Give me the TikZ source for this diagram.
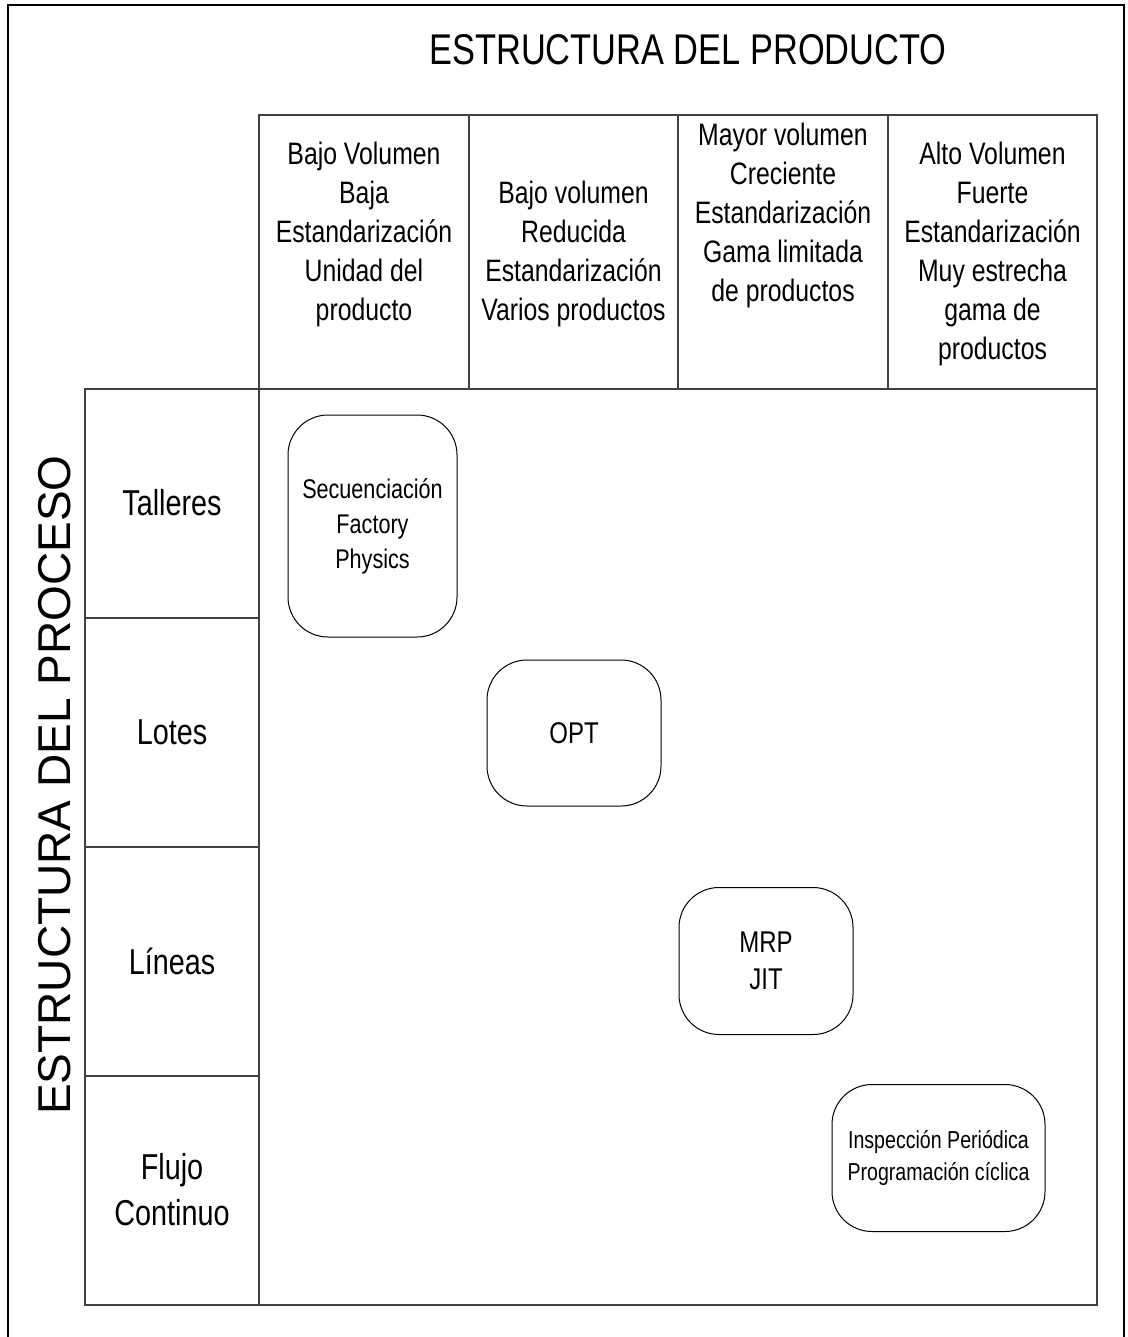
\documentclass[tikz,border=0pt]{standalone}
\usepackage{fontspec}
\setmainfont{Liberation Sans}[FakeStretch=0.8]
\newfontfamily\widefont{Liberation Sans}
\begin{document}
\begin{tikzpicture}[x=1pt,y=-1pt,
  frame/.style={line width=2pt,black},
  gridline/.style={line width=1.4pt,black!75},
  method/.style={draw,line width=1pt,rounded corners=40pt,align=center,inner sep=0pt},
  hdr/.style={align=center,inner sep=0pt,font=\fontsize{31}{39}\selectfont},
  rowlab/.style={align=center,inner sep=0pt,font=\fontsize{36}{46}\selectfont}]
\useasboundingbox (0,0) rectangle (1127,1337);
\clip (0,0) rectangle (1127,1337);

% outer frame, open at the bottom
\draw[frame] (8,1340) -- (8,5) -- (1124,5) -- (1124,1340);

% product-structure header row
\draw[gridline] (259,115) rectangle (1097,389);
\foreach \cx in {469,678,888} \draw[gridline] (\cx,115) -- (\cx,389);

% process-structure column and the matrix body
\draw[gridline] (85,389) rectangle (1097,1305);
\draw[gridline] (259,389) -- (259,1305);
\foreach \ry in {618,847,1076} \draw[gridline] (85,\ry) -- (259,\ry);

% titles
\node[anchor=base,inner sep=0pt,font=\fontsize{43}{43}\selectfont] (titleP) at (688,65) {ESTRUCTURA DEL PRODUCTO};
\node[rotate=90,inner sep=0pt,font=\widefont\fontsize{46}{46}\selectfont] (titleQ) at (55,785) {ESTRUCTURA DEL PROCESO};

% column headings
\node[hdr] (c1) at (364,234) {Bajo Volumen\\Baja\\Estandarización\\Unidad del\\producto};
\node[hdr] (c2) at (573.5,254) {Bajo volumen\\Reducida\\Estandarización\\Varios productos};
\node[hdr] (c3) at (783,215) {Mayor volumen\\Creciente\\Estandarización\\Gama limitada\\de productos};
\node[hdr] (c4) at (992.5,254) {Alto Volumen\\Fuerte\\Estandarización\\Muy estrecha\\gama de\\productos};

% row headings
\node[rowlab] (r1) at (172,503) {Talleres};
\node[rowlab] (r2) at (172,732) {Lotes};
\node[rowlab] (r3) at (172,961) {Líneas};
\node[rowlab] (r4) at (172,1190) {Flujo\\Continuo};

% planning methods
\node[method,minimum width=169pt,minimum height=222pt,font=\fontsize{27}{35}\selectfont] (m1) at (372.5,526) {Secuenciación\\Factory\\Physics};
\node[method,minimum width=174pt,minimum height=146pt,font=\fontsize{30}{37}\selectfont] (m2) at (574,733) {OPT};
\node[method,minimum width=174pt,minimum height=147pt,font=\fontsize{30}{37}\selectfont] (m3) at (766,961) {MRP\\JIT};
\node[method,minimum width=213pt,minimum height=147pt,font=\fontsize{24.5}{32}\selectfont] (m4) at (938.5,1158) {Inspección Periódica\\Programación cíclica};
\end{tikzpicture}
\end{document}
